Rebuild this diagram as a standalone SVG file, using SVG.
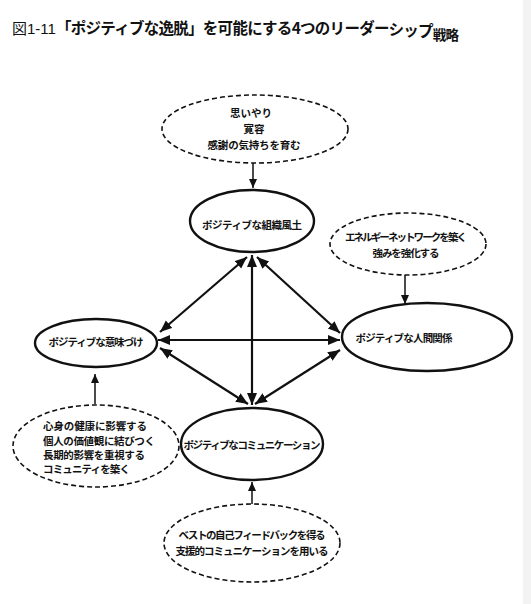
<svg xmlns="http://www.w3.org/2000/svg" width="531" height="604" viewBox="0 0 531 604">
<defs>
<style>
text{font-family:"Noto Sans CJK JP","Noto Sans",sans-serif;fill:#111}
.lbl{font-size:10.5px;font-weight:bold;text-anchor:middle}
.sub{font-size:10.5px;font-weight:bold}
.node{fill:#fff;stroke:#111;stroke-width:2.4}
.idea{fill:#fff;stroke:#111;stroke-width:1.6;stroke-dasharray:5 3}
.link{stroke:#111;stroke-width:2.2;fill:none;marker-start:url(#ah);marker-end:url(#ah)}
.feed{stroke:#111;stroke-width:1.5;fill:none;marker-end:url(#as)}
</style>
<marker id="ah" markerUnits="userSpaceOnUse" markerWidth="13" markerHeight="11" refX="12" refY="5" orient="auto-start-reverse" viewBox="0 0 13 11">
<path d="M0,0 L12,5 L0,10 z" fill="#111"/>
</marker>
<marker id="as" markerUnits="userSpaceOnUse" markerWidth="10" markerHeight="9" refX="9" refY="4" orient="auto" viewBox="0 0 10 9">
<path d="M0,0 L9,4 L0,8 z" fill="#111"/>
</marker>
</defs>
<rect x="0" y="0" width="531" height="604" fill="#fff"/>
<rect x="523" y="0" width="8" height="604" fill="#f3f3f3"/>

<g id="title">
<text x="12" y="34" font-size="15" style="font-family:'Liberation Sans','Noto Sans CJK JP',sans-serif">図1-11</text>
<text x="56" y="34" font-size="15.5" font-weight="bold" textLength="403" lengthAdjust="spacing">「ポジティブな逸脱」を可能にする4つのリーダー<tspan dy="1">シ</tspan><tspan dy="1">ッ</tspan><tspan dy="1">プ</tspan><tspan font-size="13.5" dy="3">戦略</tspan></text>
</g>

<g id="connectors">
<line class="link" x1="252" y1="255" x2="252" y2="405"/>
<line class="link" x1="158" y1="340" x2="340" y2="340"/>
<line class="link" x1="247" y1="257" x2="160" y2="332"/>
<line class="link" x1="257" y1="257" x2="340" y2="333"/>
<line class="link" x1="160" y1="348" x2="248" y2="404"/>
<line class="link" x1="340" y1="350" x2="255" y2="404"/>
<line class="feed" x1="253" y1="163" x2="253" y2="188"/>
<line class="feed" x1="405" y1="275" x2="405" y2="304"/>
<line class="feed" x1="95" y1="404" x2="95" y2="374"/>
<line class="feed" x1="252" y1="504" x2="252" y2="482"/>
</g>

<g id="idea-climate">
<ellipse class="idea" cx="255" cy="129" rx="93" ry="34"/>
<text class="lbl" x="251" y="117">思いやり</text>
<text class="lbl" x="254" y="133">寛容</text>
<text class="lbl" x="254" y="149" textLength="93">感謝の気持ちを育む</text>
</g>

<g id="node-climate">
<ellipse class="node" cx="252" cy="221" rx="62" ry="31"/>
<text class="lbl" x="252" y="229" textLength="100">ポジティブな組織風土</text>
</g>

<g id="idea-relations">
<ellipse class="idea" cx="408" cy="244" rx="78" ry="31"/>
<text class="lbl" x="406" y="241" textLength="122">エネルギーネットワークを築く</text>
<text class="lbl" x="406" y="257" textLength="67">強みを強化する</text>
</g>

<g id="node-relations">
<ellipse class="node" cx="427" cy="337" rx="85" ry="34"/>
<text class="lbl" x="404" y="342" textLength="97">ポジティブな人間関係</text>
</g>

<g id="node-meaning">
<ellipse class="node" cx="96" cy="343" rx="61" ry="24"/>
<text class="lbl" x="96" y="346" textLength="95">ポジティブな意味づけ</text>
</g>

<g id="idea-meaning">
<ellipse class="idea" cx="96" cy="446" rx="83" ry="41"/>
<text class="sub" x="43" y="430" textLength="104">心身の健康に影響する</text>
<text class="sub" x="43" y="445" textLength="112">個人の価値観に結びつく</text>
<text class="sub" x="43" y="459" textLength="102">長期的影響を重視する</text>
<text class="sub" x="43" y="473" textLength="87">コミュニティを築く</text>
</g>

<g id="node-communication">
<ellipse class="node" cx="252" cy="444" rx="71" ry="36"/>
<text class="lbl" x="252" y="449" textLength="137">ポジティブなコミュニケーション</text>
</g>

<g id="idea-communication">
<ellipse class="idea" cx="252" cy="543" rx="88" ry="39"/>
<text class="lbl" x="252" y="539" textLength="147">ベストの自己フィードバックを得る</text>
<text class="lbl" x="252" y="555" textLength="153">支援的コミュニケーションを用いる</text>
</g>
</svg>
